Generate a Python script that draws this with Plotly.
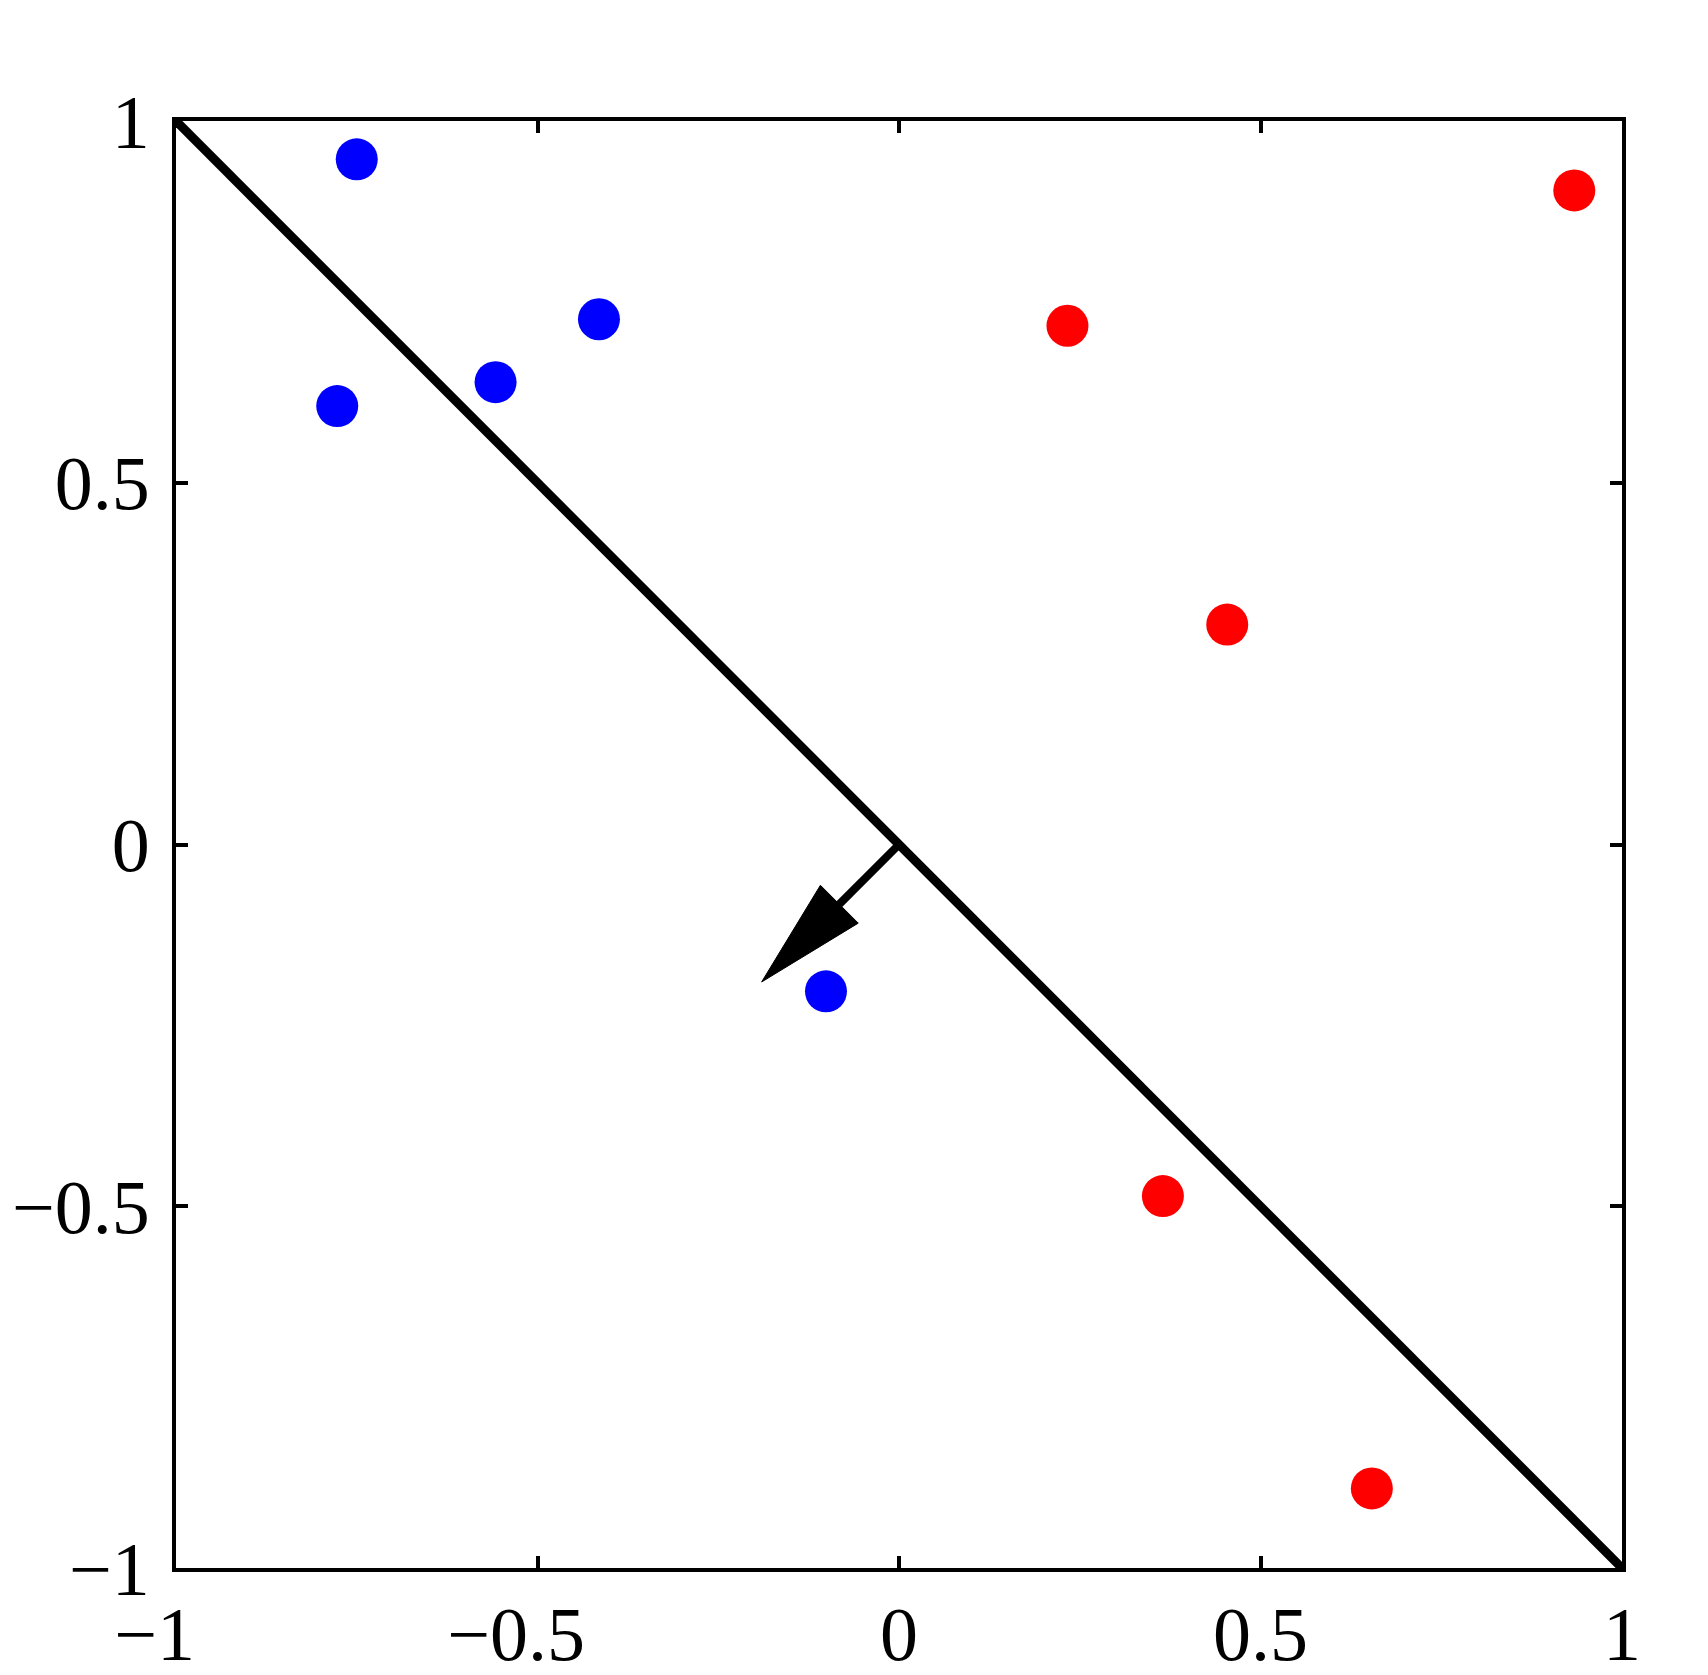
import numpy as np
import plotly.graph_objects as go

# ---- data ----
blue_x = [-0.750, -0.777, -0.558, -0.415, -0.101]
blue_y = [0.947, 0.606, 0.639, 0.726, -0.203]
red_x = [0.934, 0.233, 0.454, 0.365, 0.654]
red_y = [0.904, 0.717, 0.304, -0.486, -0.890]

boundary_x = [-1, 1]
boundary_y = [1, -1]

arrow_origin = [0.0, 0.0]
arrow_tip = [-0.19, -0.19]

tick_vals = [-1, -0.5, 0, 0.5, 1]

# ---- figure ----
FONT = "Liberation Serif"
BLACK = "#000000"


def fmt(v):
    return "%g" % abs(v)


# x tick labels: number centred on tick, minus sign hanging to the left
x_ticktext = []
for v in tick_vals:
    if v < 0:
        x_ticktext.append("\u2212" + fmt(v) + "<span style='color:rgba(0,0,0,0)'>\u2212</span>")
    else:
        x_ticktext.append(fmt(v))
y_ticktext = [("\u2212" if v < 0 else "") + fmt(v) for v in tick_vals]

fig = go.Figure()

fig.add_trace(go.Scatter(x=boundary_x, y=boundary_y, mode="lines",
                         line=dict(color=BLACK, width=9), hoverinfo="skip"))
fig.add_trace(go.Scatter(x=blue_x, y=blue_y, mode="markers",
                         marker=dict(color="#0000FF", size=42, line=dict(width=0))))
fig.add_trace(go.Scatter(x=red_x, y=red_y, mode="markers",
                         marker=dict(color="#FF0000", size=42, line=dict(width=0))))

# arrow (normal vector of the boundary)
o = np.array(arrow_origin)
t = np.array(arrow_tip)
d = t - o
u = d / np.linalg.norm(d)
n = np.array([-u[1], u[0]])
head_len = 0.152
head_half = 0.037
base = t - head_len * u
w1 = base + head_half * n
w2 = base - head_half * n
shaft_end = base + 0.02 * u

fig.add_shape(type="line", x0=o[0], y0=o[1], x1=shaft_end[0], y1=shaft_end[1],
              xref="x", yref="y", line=dict(color=BLACK, width=8))
fig.add_shape(type="path",
              path=f"M {t[0]},{t[1]} L {w1[0]},{w1[1]} L {w2[0]},{w2[1]} Z",
              xref="x", yref="y", fillcolor=BLACK, line=dict(color=BLACK, width=1))

axis_common = dict(
    range=[-1, 1], showgrid=False, zeroline=False, automargin=False,
    showline=True, linecolor=BLACK, linewidth=4, mirror="ticks",
    ticks="inside", ticklen=12, tickwidth=4, tickcolor=BLACK,
    tickmode="array", tickvals=tick_vals,
    tickfont=dict(family=FONT, size=76, color=BLACK),
)

fig.update_layout(
    width=1708, height=1675,
    margin=dict(l=176, r=86, t=121, b=107),
    paper_bgcolor="white", plot_bgcolor="white",
    showlegend=False,
    xaxis=dict(**axis_common, ticktext=x_ticktext, ticklabelstandoff=-3),
    yaxis=dict(**axis_common, ticktext=y_ticktext, ticklabelstandoff=7),
)

fig.write_html("out.html")
